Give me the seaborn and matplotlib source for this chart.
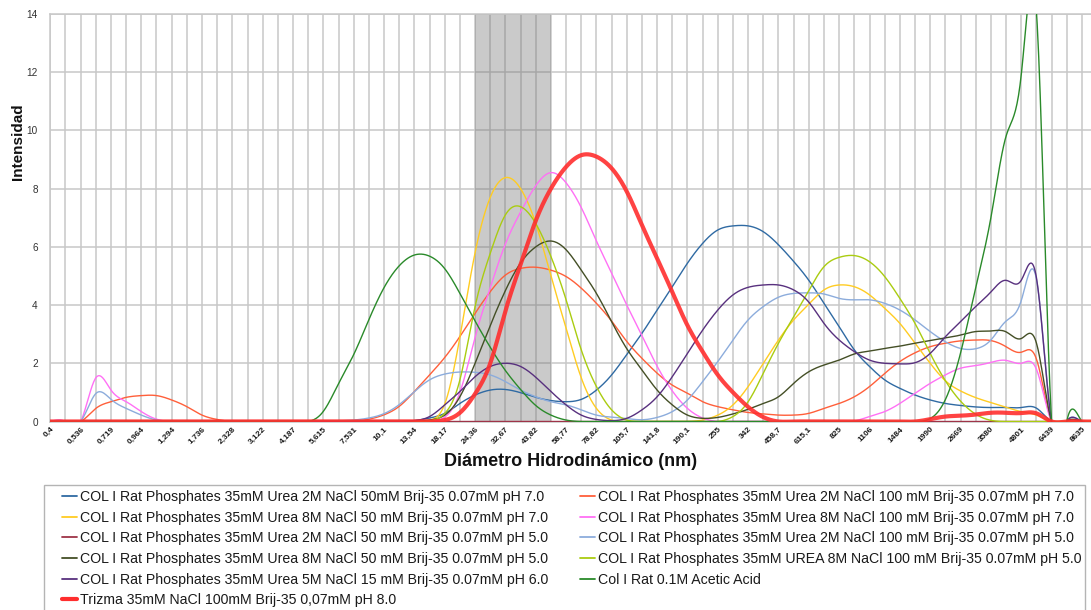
import numpy as np
import pandas as pd
import matplotlib
matplotlib.use("Agg")
import matplotlib.pyplot as plt
from matplotlib.lines import Line2D
from matplotlib.patches import Rectangle
import seaborn as sns

# Size bins of the DLS instrument (nm), 70 classes from 0.4 to 10000
size_bins = [
    "0,4", "0,4632", "0,536", "0,6213", "0,719", "0,8332", "0,964", "1,117", "1,294", "1,499",
    "1,736", "2,01", "2,328", "2,696", "3,122", "3,615", "4,187", "4,849", "5,615", "6,503",
    "7,531", "8,721", "10,1", "11,7", "13,54", "15,69", "18,17", "21,04", "24,36", "28,21",
    "32,67", "37,84", "43,82", "50,75", "58,77", "68,06", "78,82", "91,28", "105,7", "122,4",
    "141,8", "164,2", "190,1", "220,2", "255", "295,3", "342", "396,1", "458,7", "531,2",
    "615,1", "712,4", "825", "955,4", "1106", "1281", "1484", "1718", "1990", "2305",
    "2669", "3091", "3580", "4145", "4801", "5560", "6439", "7456", "8635", "10000",
]

# Intensity (%) per size class for each sample
urea2m_nacl50_ph7 = [0]*24 + [
    0.03, 0.12, 0.28, 0.62, 0.91, 1.08, 1.10, 0.99, 0.83, 0.72,
    0.68, 0.76, 1.08, 1.60, 2.30, 3.03, 3.83, 4.63, 5.44, 6.12,
    6.58, 6.72, 6.72, 6.52, 6.07, 5.50, 4.85, 4.06, 3.26, 2.46,
    1.89, 1.43, 1.14, 0.91, 0.74, 0.62, 0.55, 0.50, 0.48, 0.48,
    0.48, 0.46] + [0]*4
urea2m_nacl100_ph7 = [
    0, 0, 0, 0.45, 0.68, 0.83, 0.89, 0.89, 0.74, 0.51,
    0.22, 0.07, 0, 0, 0, 0, 0, 0, 0, 0,
    0.02, 0.08, 0.23, 0.52, 1.03, 1.60, 2.20, 2.92, 3.72, 4.46,
    5.03, 5.26, 5.30, 5.20, 4.98, 4.58, 4.06, 3.45, 2.75, 2.17,
    1.66, 1.25, 0.97, 0.68, 0.51, 0.40, 0.31, 0.26, 0.22, 0.22,
    0.28, 0.45, 0.62, 0.85, 1.20, 1.65, 2.06, 2.36, 2.57, 2.69,
    2.77, 2.80, 2.78, 2.57, 2.38, 2.15, 0, 0, 0, 0]
urea8m_nacl50_ph7 = [0]*25 + [
    0.05, 0.60, 2.90, 5.80, 7.70, 8.38, 8.00, 6.80, 5.00, 3.20,
    1.50, 0.45, 0.05, 0, 0, 0, 0, 0, 0.05, 0.22,
    0.57, 1.20, 2.00, 2.80, 3.49, 4.03, 4.52, 4.69, 4.63, 4.35,
    3.89, 3.37, 2.69, 2.00, 1.40, 1.05, 0.82, 0.65, 0.49, 0.34,
    0.22] + [0]*4
urea8m_nacl100_ph7 = [
    0, 0, 0, 1.50, 1.08, 0.68, 0.34, 0.08, 0, 0,
    0, 0, 0, 0, 0, 0, 0, 0, 0, 0,
    0, 0, 0, 0, 0, 0, 0.15, 1.00, 2.90, 4.60,
    6.10, 7.20, 8.10, 8.55, 8.20, 7.35, 6.20, 5.10, 4.00, 2.95,
    1.90, 1.05, 0.45, 0.12, 0, 0, 0, 0, 0, 0,
    0, 0, 0, 0.02, 0.17, 0.34, 0.62, 0.97, 1.31, 1.60,
    1.83, 1.92, 2.03, 2.10, 2.00, 1.80, 0, 0, 0, 0]
urea2m_nacl50_ph5 = [0]*70
urea2m_nacl100_ph5 = [
    0, 0, 0, 0.96, 0.76, 0.45, 0.22, 0.05, 0, 0,
    0, 0, 0, 0, 0, 0, 0, 0, 0, 0.02,
    0.05, 0.12, 0.27, 0.58, 1.03, 1.43, 1.63, 1.70, 1.69, 1.60,
    1.37, 1.08, 0.85, 0.68, 0.57, 0.40, 0.22, 0.15, 0.10, 0.06,
    0.14, 0.34, 0.74, 1.37, 2.06, 2.80, 3.49, 3.95, 4.27, 4.40,
    4.42, 4.38, 4.23, 4.18, 4.18, 4.06, 3.83, 3.49, 3.09, 2.74,
    2.51, 2.50, 2.80, 3.45, 4.15, 4.90, 0, 0, 0, 0]
urea8m_nacl50_ph5 = [0]*25 + [
    0.05, 0.22, 0.85, 2.00, 3.30, 4.50, 5.45, 6.00, 6.20, 5.90,
    5.20, 4.40, 3.43, 2.50, 1.77, 1.08, 0.57, 0.22, 0.11, 0.14,
    0.26, 0.42, 0.62, 0.85, 1.31, 1.71, 1.94, 2.11, 2.32, 2.42,
    2.51, 2.59, 2.69, 2.78, 2.87, 2.97, 3.09, 3.11, 3.08, 2.85,
    2.70] + [0]*4
urea8m_nacl100_ph5 = [0]*25 + [
    0.02, 0.28, 1.43, 3.95, 5.78, 7.10, 7.38, 6.80, 5.67, 4.18,
    2.46, 1.20, 0.40, 0.05, 0, 0, 0, 0, 0, 0,
    0.17, 0.68, 1.66, 2.69, 3.60, 4.50, 5.32, 5.64, 5.70, 5.49,
    4.98, 4.23, 3.37, 2.34, 1.40, 0.70, 0.25, 0.04, 0, 0,
    0] + [0]*4
urea5m_nacl15_ph6 = [0]*24 + [
    0.03, 0.17, 0.57, 1.03, 1.54, 1.89, 2.00, 1.89, 1.52, 1.03,
    0.57, 0.22, 0.07, 0.03, 0.11, 0.40, 0.85, 1.54, 2.34, 3.14,
    3.83, 4.35, 4.61, 4.69, 4.69, 4.52, 4.10, 3.37, 2.80, 2.40,
    2.11, 2.00, 1.98, 2.02, 2.34, 2.91, 3.43, 3.95, 4.45, 4.85,
    4.85, 4.95] + [0]*4
acetic_acid = [0]*18 + [
    0.35, 1.30, 2.30, 3.50, 4.60, 5.35, 5.72, 5.68, 5.25, 4.40,
    3.45, 2.55, 1.75, 1.10, 0.55, 0.22, 0.05] + [0]*23 + [
    0.10, 0.75, 2.35, 4.60, 7.00, 9.80, 11.90, 14.10, 0, 0, 0, 0]
trizma = [0]*26 + [
    0.05, 0.30, 0.95, 2.00, 3.80, 5.40, 6.90, 8.00, 8.75, 9.15,
    9.10, 8.70, 7.90, 6.75, 5.60, 4.45, 3.30, 2.40, 1.60, 1.00,
    0.50, 0.15] + [0]*10 + [
    0.08, 0.17, 0.20, 0.24, 0.30, 0.30, 0.29, 0.28, 0, 0, 0, 0]

series_labels = [
    "COL I Rat Phosphates 35mM Urea 2M NaCl 50mM Brij-35 0.07mM pH 7.0",
    "COL I Rat Phosphates 35mM Urea 2M NaCl 100 mM Brij-35 0.07mM pH 7.0",
    "COL I Rat Phosphates 35mM Urea 8M NaCl 50 mM Brij-35 0.07mM pH 7.0",
    "COL I Rat Phosphates 35mM Urea 8M NaCl 100 mM Brij-35 0.07mM pH 7.0",
    "COL I Rat Phosphates 35mM Urea 2M NaCl 50 mM Brij-35 0.07mM pH 5.0",
    "COL I Rat Phosphates 35mM Urea 2M NaCl 100 mM Brij-35 0.07mM pH 5.0",
    "COL I Rat Phosphates 35mM Urea 8M NaCl 50 mM Brij-35 0.07mM pH 5.0",
    "COL I Rat Phosphates 35mM UREA 8M NaCl 100 mM Brij-35 0.07mM pH 5.0",
    "COL I Rat Phosphates 35mM Urea 5M NaCl 15 mM Brij-35 0.07mM pH 6.0",
    "Col I Rat 0.1M Acetic Acid",
    "Trizma 35mM NaCl 100mM Brij-35 0,07mM pH 8.0",
]
series_values = [
    urea2m_nacl50_ph7, urea2m_nacl100_ph7, urea8m_nacl50_ph7, urea8m_nacl100_ph7,
    urea2m_nacl50_ph5, urea2m_nacl100_ph5, urea8m_nacl50_ph5, urea8m_nacl100_ph5,
    urea5m_nacl15_ph6, acetic_acid, trizma,
]
series_colors = [
    "#2f6aa3", "#ff5f3a", "#ffcc22", "#ff70f5", "#9e3448", "#8cacdc",
    "#444f26", "#aacc10", "#58307e", "#2a8a2a", "#ff2e2e",
]
series_widths = [1.0] * 10 + [3.0]

# shaded region of interest (size classes 24.36 - 43.82 nm)
band_start, band_end = 28, 33


def natural_cubic_spline(x, y, xs):
    """Smooth curve through (x, y), evaluated at xs."""
    x = np.asarray(x, float)
    y = np.asarray(y, float)
    n = len(x)
    h = np.diff(x)
    A = np.zeros((n, n))
    r = np.zeros(n)
    A[0, 0] = A[-1, -1] = 1.0
    for i in range(1, n - 1):
        A[i, i - 1] = h[i - 1]
        A[i, i] = 2 * (h[i - 1] + h[i])
        A[i, i + 1] = h[i]
        r[i] = 3 * ((y[i + 1] - y[i]) / h[i] - (y[i] - y[i - 1]) / h[i - 1])
    c = np.linalg.solve(A, r)
    b = (y[1:] - y[:-1]) / h - h * (2 * c[:-1] + c[1:]) / 3
    d = (c[1:] - c[:-1]) / (3 * h)
    k = np.clip(np.searchsorted(x, xs, side="right") - 1, 0, n - 2)
    t = xs - x[k]
    return y[k] + b[k] * t + c[k] * t ** 2 + d[k] * t ** 3


sns.set_style("white")
plt.rcParams["font.family"] = ["Liberation Sans", "DejaVu Sans"]

W, H = 1091, 610
fig = plt.figure(figsize=(W / 100, H / 100), dpi=100)
x0, x1, ytop, ybot = 50.3, 1091, 14, 421.5
ax = fig.add_axes([x0 / W, 1 - ybot / H, (x1 - x0) / W, (ybot - ytop) / H])

pos = np.arange(len(size_bins))
dense = np.linspace(0, len(size_bins) - 1, 1400)

for vals, col, lw in zip(series_values, series_colors, series_widths):
    df = pd.DataFrame({"pos": dense, "intensity": natural_cubic_spline(pos, vals, dense)})
    sns.lineplot(data=df, x="pos", y="intensity", color=col, lw=lw,
                 ax=ax, legend=False, zorder=3, estimator=None,
                 alpha=0.9 if lw > 2 else 1.0)

ax.axvspan(band_start, band_end, color="#6e6e6e", alpha=0.36, lw=0, zorder=1.5)

ax.set_xlim(0, 68.6)
ax.set_ylim(0, 14)
ax.set_xticks(pos[::2][:35])
ax.set_xticklabels(size_bins[::2][:35], rotation=45, ha="right",
                   rotation_mode="anchor", fontsize=6, fontweight="bold",
                   color="#1a1a1a")
ax.set_xticks(pos[:69], minor=True)
ax.set_yticks(np.arange(0, 15, 2))
ax.set_yticklabels([str(v) for v in range(0, 15, 2)], fontsize=7.2,
                   color="#333333")
ax.tick_params(axis="both", which="both", length=0)
ax.tick_params(axis="x", pad=3)
ax.tick_params(axis="y", pad=9)
ax.grid(True, which="both", axis="x", color="#c8c8c8", lw=1.1, zorder=0)
ax.grid(True, which="major", axis="y", color="#c8c8c8", lw=1.1, zorder=0)
ax.set_axisbelow(True)
for side in ("left", "top", "bottom"):
    ax.spines[side].set_color("#c8c8c8")
    ax.spines[side].set_linewidth(1.1)
ax.spines["right"].set_visible(False)
ax.set_xlabel("")
ax.set_ylabel("")

fig.text(18.5 / W, 1 - 142 / H, "Intensidad", rotation=90, ha="center",
         va="center", fontsize=11, fontweight="bold", color="#111111")
fig.text(571 / W, 1 - 461 / H, "Diámetro Hidrodinámico (nm)", ha="center",
         va="center", fontsize=13, fontweight="bold", color="#111111")

# legend box below the chart, two columns of entries
fig.patches.append(Rectangle((44 / W, -0.01), (1085 - 44) / W, 1 - 485 / H + 0.01,
                             transform=fig.transFigure, facecolor="white",
                             edgecolor="#b4b4b4", lw=1.0))

handles = [Line2D([], [], color=c, lw=(3.0 if w > 2 else 1.3))
           for c, w in zip(series_colors, series_widths)]
left_idx = [0, 2, 4, 6, 8, 10]
right_idx = [1, 3, 5, 7, 9]
leg_kw = dict(loc="upper left", frameon=False, borderpad=0, borderaxespad=0,
              handlelength=1.05, handletextpad=0.22, labelspacing=0.47,
              fontsize=10.2, labelcolor="#1a1a1a")
leg1 = fig.legend([handles[i] for i in left_idx], [series_labels[i] for i in left_idx],
                  bbox_to_anchor=(62 / W, 1 - 490 / H), **leg_kw)
leg2 = fig.legend([handles[i] for i in right_idx], [series_labels[i] for i in right_idx],
                  bbox_to_anchor=(580 / W, 1 - 490 / H), **leg_kw)

fig.savefig("out.png", dpi=100)
